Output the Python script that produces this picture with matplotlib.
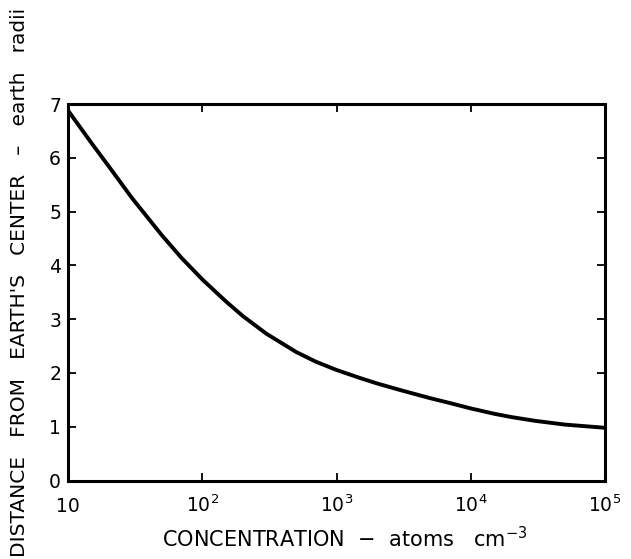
import matplotlib
matplotlib.use("Agg")
import matplotlib.pyplot as plt
from matplotlib.ticker import FixedLocator, FixedFormatter, NullLocator

# Data
concentration = [10, 15, 20, 30, 50, 70, 100, 150, 200, 300, 500, 700, 1000,
                 1500, 2000, 3000, 5000, 7000, 10000, 15000, 20000, 30000,
                 50000, 100000]
distance = [6.88, 6.27, 5.85, 5.25, 4.56, 4.14, 3.74, 3.33, 3.06, 2.73, 2.39,
            2.21, 2.055, 1.905, 1.805, 1.68, 1.53, 1.44, 1.34, 1.24, 1.18,
            1.11, 1.04, 0.98]

x_ticks = [10, 100, 1000, 10000, 100000]
x_tick_labels = ['10', r'$10^2$', r'$10^3$', r'$10^4$', r'$10^5$']
y_ticks = [0, 1, 2, 3, 4, 5, 6, 7]
y_tick_labels = ['0', '1', '2', '3', '4', '5', '6', '7']

plt.rcParams['font.family'] = ['DejaVu Sans']
plt.rcParams['mathtext.fontset'] = 'dejavusans'

W, H = 631, 559
fig = plt.figure(figsize=(W/100, H/100), dpi=100)
left, right, top, bottom = 68, 605, 104, 480.5
ax = fig.add_axes([left/W, 1 - bottom/H, (right-left)/W, (bottom-top)/H])

ax.plot(concentration, distance, color='black', lw=2.8,
        solid_capstyle='round', solid_joinstyle='round')
ax.set_xscale('log')
ax.set_xlim(10, 1e5)
ax.set_ylim(0, 7)

ax.xaxis.set_major_locator(FixedLocator(x_ticks))
ax.xaxis.set_major_formatter(FixedFormatter(x_tick_labels))
ax.xaxis.set_minor_locator(NullLocator())
ax.yaxis.set_major_locator(FixedLocator(y_ticks))
ax.yaxis.set_major_formatter(FixedFormatter(y_tick_labels))

for s in ax.spines.values():
    s.set_linewidth(2.2)
ax.tick_params(direction='in', length=6, width=1.3, top=True, right=True,
               labelsize=13.5, color='black')
ax.tick_params(axis='x', pad=23)
ax.tick_params(axis='y', pad=5)
for lab in ax.get_xticklabels():
    lab.set_verticalalignment('baseline')

fig.text(345/W, 1 - 547/H, r'CONCENTRATION  $-$  atoms   cm$^{-3}$',
         ha='center', va='baseline', fontsize=15)
fig.text(20/W, 1 - 557/H,
         "DISTANCE   FROM   EARTH'S   CENTER   \u2013   earth   radii",
         rotation=90, ha='center', va='bottom', fontsize=14.5)

fig.savefig('out.png', dpi=100)
